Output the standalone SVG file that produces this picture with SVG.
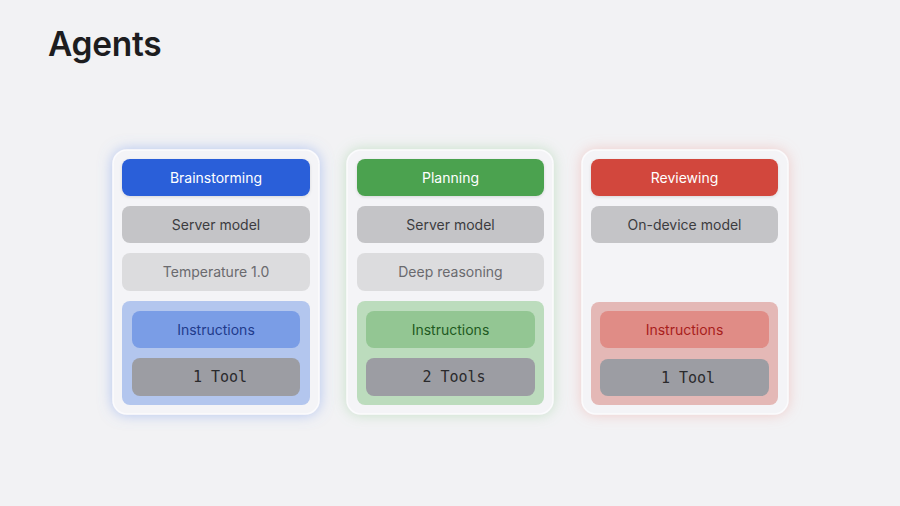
<svg xmlns="http://www.w3.org/2000/svg" width="900" height="506" viewBox="0 0 900 506">
<defs>
<filter id="glowB" x="-25%" y="-25%" width="150%" height="150%"><feDropShadow dx="0" dy="0" stdDeviation="7" flood-color="#6f95ea" flood-opacity="0.5"/></filter>
<filter id="glowG" x="-25%" y="-25%" width="150%" height="150%"><feDropShadow dx="0" dy="0" stdDeviation="7" flood-color="#8ec98f" flood-opacity="0.45"/></filter>
<filter id="glowR" x="-25%" y="-25%" width="150%" height="150%"><feDropShadow dx="0" dy="0" stdDeviation="7" flood-color="#eb9a94" flood-opacity="0.45"/></filter>
<filter id="sh" x="-10%" y="-20%" width="120%" height="150%"><feDropShadow dx="0" dy="1" stdDeviation="1.5" flood-color="#000" flood-opacity="0.12"/></filter>
</defs>
<style>
.card{fill:#f4f4f7;stroke:#fbfbfd;stroke-width:1.5}
.t{font-family:Inter,"Liberation Sans",sans-serif;font-size:14px;text-anchor:middle}
.m{font-family:"DejaVu Sans Mono","Liberation Mono",monospace;font-size:15px;text-anchor:middle;fill:#2a2a2c}
.srv{fill:#c4c4c7}
.opt{fill:#dcdcde}
.tool{fill:#9c9da3}
.title{font-family:Inter,"Liberation Sans",sans-serif;font-size:33.5px;font-weight:600;fill:#1d1d1f;letter-spacing:-0.3px}
</style>
<rect width="900" height="506" fill="#f2f2f4"/>
<text class="title" x="48" y="56">Agents</text>

<g id="brainstorming">
<rect class="card" x="113" y="150" width="206" height="264" rx="14" filter="url(#glowB)"/>
<rect x="122" y="159" width="188" height="37" rx="8" fill="#2b5fd9" filter="url(#sh)"/>
<text class="t" x="216" y="182.5" fill="#ffffff">Brainstorming</text>
<rect class="srv" x="122" y="206" width="188" height="37" rx="8"/>
<text class="t" x="216" y="229.5" fill="#3c3c40">Server model</text>
<rect class="opt" x="122" y="253" width="188" height="38" rx="8"/>
<text class="t" x="216" y="277" fill="#6a6a6e">Temperature 1.0</text>
<rect x="122" y="301" width="188" height="104" rx="8" fill="#b3c6ee"/>
<rect x="132" y="311" width="168" height="37" rx="8" fill="#7a9de6"/>
<text class="t" x="216" y="334.5" fill="#1f3b8c">Instructions</text>
<rect class="tool" x="132" y="358" width="168" height="38" rx="8"/>
<text class="m" x="220" y="382">1 Tool</text>
</g>

<g id="planning">
<rect class="card" x="347" y="150" width="206" height="264" rx="14" filter="url(#glowG)"/>
<rect x="357" y="159" width="187" height="37" rx="8" fill="#4ca24f" filter="url(#sh)"/>
<text class="t" x="450.5" y="182.5" fill="#ffffff">Planning</text>
<rect class="srv" x="357" y="206" width="187" height="37" rx="8"/>
<text class="t" x="450.5" y="229.5" fill="#3c3c40">Server model</text>
<rect class="opt" x="357" y="253" width="187" height="38" rx="8"/>
<text class="t" x="450.5" y="277" fill="#6a6a6e">Deep reasoning</text>
<rect x="357" y="301" width="187" height="104" rx="8" fill="#bcdcbd"/>
<rect x="366" y="311" width="169" height="37" rx="8" fill="#93c693"/>
<text class="t" x="450.5" y="334.5" fill="#1f5a22">Instructions</text>
<rect class="tool" x="366" y="358" width="169" height="38" rx="8"/>
<text class="m" x="454" y="382">2 Tools</text>
</g>

<g id="reviewing">
<rect class="card" x="582" y="150" width="206" height="264" rx="14" filter="url(#glowR)"/>
<rect x="591" y="159" width="187" height="37" rx="8" fill="#d2473c" filter="url(#sh)"/>
<text class="t" x="684.5" y="182.5" fill="#ffffff">Reviewing</text>
<rect class="srv" x="591" y="206" width="187" height="37" rx="8"/>
<text class="t" x="684.5" y="229.5" fill="#3c3c40">On-device model</text>
<rect x="591" y="302" width="187" height="103" rx="8" fill="#e4b8b6"/>
<rect x="600" y="311" width="169" height="37" rx="8" fill="#e08c86"/>
<text class="t" x="684.5" y="334.5" fill="#a8201c">Instructions</text>
<rect class="tool" x="600" y="359" width="169" height="37" rx="8"/>
<text class="m" x="688" y="382.5">1 Tool</text>
</g>

<g id="connectors"/>
</svg>
